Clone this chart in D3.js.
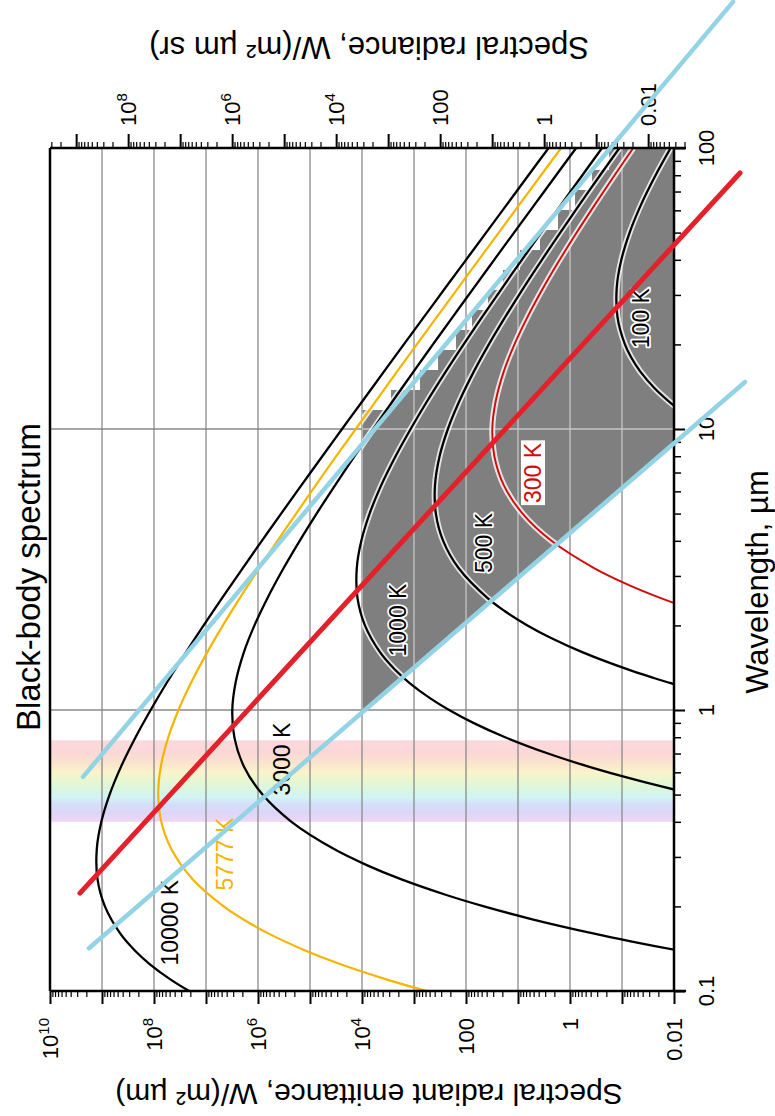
<!DOCTYPE html>
<html>
<head>
<meta charset="utf-8">
<script src="https://cdn.jsdelivr.net/npm/d3@7"></script>
<style>
  body { margin: 0; background: #fff; }
  svg text { font-family: "Liberation Sans", Arial, Helvetica, sans-serif; }
</style>
</head>
<body>
<svg id="chart" width="775" height="1116"></svg>
<script>
// ---- Spectral radiant emittance, W/(m² µm), per temperature ----
const wl10000 = [0.09, 0.1, 0.11, 0.125, 0.14, 0.16, 0.2, 0.25, 0.32, 0.4, 0.5, 0.63, 0.8, 1, 1.25, 1.6, 2, 2.5, 3.2, 4, 5, 6.3, 8, 10, 12.5, 16, 20, 25, 32, 40, 50, 63, 80, 100];
const em10000 = [7.23e6, 2.11e7, 4.85e7, 1.23e8, 2.39e8, 4.44e8, 8.79e8, 1.22e9, 1.26e9, 1.03e9, 7.14e8, 4.28e8, 2.26e8, 1.16e8, 5.68e7, 2.45e7, 1.11e7, 4.92e6, 1.96e6, 8.43e5, 3.59e5, 1.47e5, 5.79e4, 2.42e4, 1.00e4, 3.79e3, 1.57e3, 647, 243, 99.8, 41.0, 16.3, 6.30, 2.58];

const wl5777 = [0.09, 0.1, 0.11, 0.125, 0.14, 0.16, 0.18, 0.2, 0.25, 0.32, 0.4, 0.5, 0.63, 0.8, 1, 1.25, 1.6, 2, 2.5, 3.2, 4, 5, 6.3, 8, 10, 12.5, 16, 20, 25, 32, 40, 50, 63, 80, 100];
const em5777 = [60.8, 570, 3.41e3, 2.73e4, 1.31e5, 6.21e5, 1.94e6, 4.57e6, 1.81e7, 4.65e7, 7.24e7, 8.28e7, 7.38e7, 5.31e7, 3.38e7, 1.94e7, 9.53e6, 4.73e6, 2.24e6, 9.46e5, 4.23e5, 1.85e5, 7.78e4, 3.13e4, 1.32e4, 5.56e3, 2.12e3, 881, 366, 138, 56.9, 23.4, 9.35, 3.61, 1.48];

const wl3000 = [0.125, 0.14, 0.15, 0.16, 0.18, 0.2, 0.22, 0.25, 0.28, 0.32, 0.4, 0.5, 0.63, 0.8, 1, 1.25, 1.6, 2, 2.5, 3.2, 4, 5, 6.3, 8, 10, 12.5, 16, 20, 25, 32, 40, 50, 63, 80, 100];
const em3000 = [2.67e-4, 9.22e-3, 6.41e-2, 0.342, 5.31, 45.1, 247, 1.79e3, 7.91e3, 3.45e4, 2.27e5, 8.17e5, 1.87e6, 2.85e6, 3.12e6, 2.70e6, 1.88e6, 1.17e6, 6.59e5, 3.21e5, 1.58e5, 7.45e4, 3.30e4, 1.39e4, 6.08e3, 2.62e3, 1.02e3, 432, 181, 69.0, 28.7, 11.9, 4.76, 1.85, 0.762];

const wl1000 = [0.5, 0.52, 0.55, 0.58, 0.63, 0.7, 0.8, 0.9, 1, 1.1, 1.25, 1.4, 1.6, 2, 2.5, 3.2, 4, 5, 6.3, 8, 10, 12.5, 16, 20, 25, 32, 40, 50, 63, 80, 100];
const em1000 = [3.81e-3, 9.46e-3, 3.24e-2, 9.59e-2, 0.455, 2.64, 17.7, 72.3, 211, 485, 1230, 2390, 4440, 8790, 12200, 12600, 10300, 7140, 4280, 2260, 1160, 568, 245, 111, 49.2, 19.6, 8.43, 3.59, 1.47, 0.579, 0.242];

const wl500 = [1.1, 1.2, 1.25, 1.3, 1.4, 1.6, 1.8, 2, 2.25, 2.5, 3.2, 4, 5, 6.3, 8, 10, 12.5, 16, 20, 25, 32, 40, 50, 63, 80, 100];
const em500 = [1.01e-3, 5.79e-3, 1.23e-2, 2.45e-2, 8.24e-2, 0.552, 2.26, 6.59, 18.1, 38.4, 139, 275, 380, 395, 322, 223, 136, 70.8, 36.4, 17.7, 7.66, 3.47, 1.54, 0.652, 0.264, 0.112];

const wl300 = [2, 2.2, 2.35, 2.5, 2.8, 3.2, 4, 5, 6.3, 8, 10, 12.5, 16, 20, 25, 32, 40, 50, 63, 80, 100];
const em300 = [4.51e-4, 2.47e-3, 7.14e-3, 1.79e-2, 7.91e-2, 0.345, 2.27, 8.17, 18.7, 28.5, 31.2, 27.0, 18.8, 11.7, 6.59, 3.21, 1.58, 0.745, 0.330, 0.139, 0.0608];

const wl100 = [10, 11, 12, 12.5, 14, 16, 18, 20, 25, 32, 40, 50, 63, 80, 100];
const em100 = [2.11e-3, 4.85e-3, 9.33e-3, 1.23e-2, 2.39e-2, 4.44e-2, 6.68e-2, 8.79e-2, 0.122, 0.126, 0.103, 7.14e-2, 4.28e-2, 2.26e-2, 1.16e-2];

// Curve labels and the point (wavelength, emittance) each label is centred on
const curveLabels = ["10000 K", "5777 K", "3000 K", "1000 K", "500 K", "300 K", "100 K"];
const labelWl = [0.175, 0.307, 0.669, 2.09, 3.93, 6.97, 24.8];
const labelEm = [4.9e7, 4.3e6, 3.45e5, 2.03e3, 45, 5.15, 0.0431];

// Straight reference lines: [wavelength, emittance] end points
const peakLineWl = [0.223, 81.5];
const peakLineEm = [2.65e9, 5.38e-4];
const blueUpperWl = [0.578, 331];
const blueUpperEm = [2.32e9, 7.33e-4];
const blueLowerWl = [0.142, 14.7];
const blueLowerEm = [1.78e9, 4.31e-4];

// Stepped upper edge of the shaded band
const shadeWl = [10, 11.68, 13.77, 16.22, 19.10, 22.50, 26.51, 31.23, 36.79, 43.35, 51.07, 60.16, 70.88, 83.50, 100];
const shadeEm = [1e4, 2770, 767, 345, 156, 76.7, 37.8, 19.4, 9.16, 3.78, 1.70, 0.80, 0.378, 0.178, 0.0767];

// Visible band
const spectrumWl = [0.78, 0.70, 0.64, 0.60, 0.56, 0.52, 0.49, 0.46, 0.43, 0.40];
const spectrumColors = ["#fbd9dc", "#fbd8d6", "#fbe6cc", "#f9f4cc", "#e8f7d0", "#d8f6e0", "#d3f4f6", "#d5def9", "#ddd6f8", "#f3d5f3"];

// Tick labels
const bottomTicks = [1e10, 1e8, 1e6, 1e4, 100, 1, 0.01];
const bottomTickText = [["10", "10"], ["10", "8"], ["10", "6"], ["10", "4"], ["100", ""], ["1", ""], ["0.01", ""]];
const topTicks = [1e8, 1e6, 1e4, 100, 1, 0.01];
const topTickText = [["10", "8"], ["10", "6"], ["10", "4"], ["100", ""], ["1", ""], ["0.01", ""]];
const rightTicks = [0.1, 1, 10, 100];
const rightTickText = ["0.1", "1", "10", "100"];

// ---- layout ----
const svg = d3.select("#chart");
const plot = { left: 50, right: 674, top: 148, bottom: 991 };

const x = d3.scaleLog().domain([1e10, 0.01]).range([plot.left, plot.right]);
const xRad = d3.scaleLog().domain([1e10 / Math.PI, 0.01 / Math.PI]).range([plot.left, plot.right]);
const y = d3.scaleLog().domain([0.1, 100]).range([plot.bottom, plot.top]);

const defs = svg.append("defs");
defs.append("clipPath").attr("id", "plot-clip").append("rect")
  .attr("x", plot.left).attr("y", plot.top)
  .attr("width", plot.right - plot.left).attr("height", plot.bottom - plot.top);

svg.append("rect").attr("width", 775).attr("height", 1116).attr("fill", "#fff");

// visible-light gradient band
const grad = defs.append("linearGradient").attr("id", "visible")
  .attr("gradientUnits", "userSpaceOnUse")
  .attr("x1", 0).attr("x2", 0)
  .attr("y1", y(spectrumWl[0])).attr("y2", y(spectrumWl[spectrumWl.length - 1]));
const y0 = y(spectrumWl[0]), y1 = y(spectrumWl[spectrumWl.length - 1]);
spectrumWl.forEach((w, i) => {
  grad.append("stop").attr("offset", (y(w) - y0) / (y1 - y0)).attr("stop-color", spectrumColors[i]);
});
svg.append("rect")
  .attr("x", plot.left).attr("width", plot.right - plot.left)
  .attr("y", y0).attr("height", y1 - y0)
  .attr("fill", "url(#visible)");

// grid
const decades = d3.range(-1, 10).map(k => Math.pow(10, k));
const wlGrid = [1, 10];
function drawGrid(g, color, width) {
  g.selectAll(".gv").data(decades).join("line")
    .attr("x1", d => x(d)).attr("x2", d => x(d))
    .attr("y1", plot.top).attr("y2", plot.bottom)
    .attr("stroke", color).attr("stroke-width", width);
  g.selectAll(".gh").data(wlGrid).join("line")
    .attr("x1", plot.left).attr("x2", plot.right)
    .attr("y1", d => y(d)).attr("y2", d => y(d))
    .attr("stroke", color).attr("stroke-width", width);
}
drawGrid(svg.append("g"), "#8a8a8a", 1.3);

// shaded band
function lambdaAt(wls, ems, m) {
  const l0 = Math.log10(wls[0]), l1 = Math.log10(wls[1]);
  const m0 = Math.log10(ems[0]), m1 = Math.log10(ems[1]);
  return Math.pow(10, l0 + (Math.log10(m) - m0) * (l1 - l0) / (m1 - m0));
}
const shadePts = [];
for (let i = 0; i < shadeWl.length - 1; i++) {
  shadePts.push([shadeWl[i], shadeEm[i]]);
  shadePts.push([shadeWl[i + 1], shadeEm[i]]);
}
shadePts.push([shadeWl[shadeWl.length - 1], shadeEm[shadeEm.length - 1]]);
shadePts.push([100, 0.01]);
shadePts.push([lambdaAt(blueLowerWl, blueLowerEm, 0.01), 0.01]);
shadePts.push([lambdaAt(blueLowerWl, blueLowerEm, 1e4), 1e4]);
const shadePath = d3.line().x(d => x(d[1])).y(d => y(d[0]))(shadePts) + "Z";

defs.append("clipPath").attr("id", "shade-clip").append("path").attr("d", shadePath);
svg.append("path").attr("d", shadePath).attr("fill", "#7f7f7f");
drawGrid(svg.append("g").attr("clip-path", "url(#shade-clip)"), "#c6c6c6", 1.3);

// Planck curves
const series = [
  { wl: wl10000, em: em10000, color: "#000", width: 2.3 },
  { wl: wl5777, em: em5777, color: "#f5b400", width: 2.2 },
  { wl: wl3000, em: em3000, color: "#000", width: 2.3 },
  { wl: wl1000, em: em1000, color: "#000", width: 2.3 },
  { wl: wl500, em: em500, color: "#000", width: 2.3 },
  { wl: wl300, em: em300, color: "#d10a0a", width: 1.9 },
  { wl: wl100, em: em100, color: "#000", width: 2.3 }
];
const curve = d3.line()
  .x(d => x(d[1])).y(d => y(d[0]))
  .curve(d3.curveCatmullRom.alpha(0.5));

const halo = svg.append("g").attr("clip-path", "url(#shade-clip)");
halo.selectAll("path").data(series).join("path")
  .attr("d", s => curve(s.wl.map((w, i) => [w, s.em[i]])))
  .attr("fill", "none").attr("stroke", "#fff").attr("stroke-width", 6).attr("stroke-opacity", 0.8);

const curves = svg.append("g").attr("clip-path", "url(#plot-clip)");
curves.selectAll("path").data(series).join("path")
  .attr("d", s => curve(s.wl.map((w, i) => [w, s.em[i]])))
  .attr("fill", "none").attr("stroke", s => s.color).attr("stroke-width", s => s.width);

// curve labels
const labelColors = ["#000", "#f5b400", "#000", "#000", "#000", "#d10a0a", "#000"];
const labelHalo = [false, false, false, true, true, false, true];
const labelBox = [false, false, false, false, false, true, false];
curveLabels.forEach((t, i) => {
  const g = svg.append("g")
    .attr("transform", `translate(${x(labelEm[i])},${y(labelWl[i])}) rotate(-90)`);
  const txt = g.append("text")
    .attr("text-anchor", "middle").attr("dominant-baseline", "central")
    .attr("font-size", 23).attr("fill", labelColors[i])
    .text(t);
  if (labelHalo[i]) {
    txt.attr("stroke", "#fff").attr("stroke-width", 3.5).attr("paint-order", "stroke")
      .attr("stroke-linejoin", "round");
  }
  if (labelBox[i]) {
    const b = txt.node().getBBox();
    g.insert("rect", "text")
      .attr("x", b.x - 2).attr("y", b.y + 1)
      .attr("width", b.width + 4).attr("height", b.height - 2)
      .attr("fill", "#fff");
  }
});

// ---- axes ----
function minorValues(lo, hi) {
  const out = [];
  for (let k = -4; k <= 10; k++) {
    for (let m = 2; m <= 9; m++) {
      const v = m * Math.pow(10, k);
      if (v >= lo && v <= hi) out.push(v);
    }
  }
  return out;
}
function styleAxis(g, w) {
  g.select(".domain").remove();
  g.selectAll(".tick line").attr("stroke", "#000").attr("stroke-width", w);
  g.selectAll(".tick text").remove();
}

// bottom (emittance)
const bottomMajor = d3.range(-2, 11).map(k => Math.pow(10, k));
svg.append("g").attr("transform", `translate(0,${plot.bottom})`)
  .call(d3.axisBottom(x).tickValues(bottomMajor).tickSize(13).tickFormat(""))
  .call(g => styleAxis(g, 2));
svg.append("g").attr("transform", `translate(0,${plot.bottom})`)
  .call(d3.axisBottom(x).tickValues(minorValues(0.01, 1e10)).tickSize(6).tickFormat(""))
  .call(g => styleAxis(g, 1.2));

// top (radiance)
const radHi = xRad.invert(plot.left), radLo = xRad.invert(686);
const topMajor = d3.range(-3, 11).map(k => Math.pow(10, k)).filter(v => v >= radLo && v <= radHi);
svg.append("g").attr("transform", `translate(0,${plot.top})`)
  .call(d3.axisTop(xRad).tickValues(topMajor).tickSize(14).tickFormat(""))
  .call(g => styleAxis(g, 2));
svg.append("g").attr("transform", `translate(0,${plot.top})`)
  .call(d3.axisTop(xRad).tickValues(minorValues(radLo, radHi)).tickSize(6).tickFormat(""))
  .call(g => styleAxis(g, 1.2));

// right (wavelength)
svg.append("g").attr("transform", `translate(${plot.right},0)`)
  .call(d3.axisRight(y).tickValues([0.1, 1, 10, 100]).tickSize(11).tickFormat(""))
  .call(g => styleAxis(g, 2));
svg.append("g").attr("transform", `translate(${plot.right},0)`)
  .call(d3.axisRight(y).tickValues(minorValues(0.1, 100)).tickSize(7).tickFormat(""))
  .call(g => styleAxis(g, 1.5));

// frame
const frame = svg.append("g").attr("stroke", "#000").attr("stroke-width", 2.5);
frame.append("line").attr("x1", plot.left).attr("x2", 686).attr("y1", plot.top).attr("y2", plot.top);
frame.append("line").attr("x1", plot.left).attr("x2", 686).attr("y1", plot.bottom).attr("y2", plot.bottom);
frame.append("line").attr("x1", plot.left).attr("x2", plot.left).attr("y1", plot.top).attr("y2", plot.bottom);
frame.append("line").attr("x1", plot.right).attr("x2", plot.right).attr("y1", plot.top).attr("y2", plot.bottom);

// tick labels
function powerLabel(sel, parts) {
  sel.append("tspan").text(parts[0]);
  if (parts[1]) sel.append("tspan").attr("dy", "-0.45em").attr("font-size", 15).text(parts[1]);
}
bottomTicks.forEach((v, i) => {
  const t = svg.append("text")
    .attr("transform", `translate(${x(v)},1018) rotate(-90)`)
    .attr("text-anchor", "end").attr("dominant-baseline", "central")
    .attr("font-size", 22).attr("fill", "#000");
  powerLabel(t, bottomTickText[i]);
});
topTicks.forEach((v, i) => {
  const t = svg.append("text")
    .attr("transform", `translate(${xRad(v)},126) rotate(-90)`)
    .attr("text-anchor", "start").attr("dominant-baseline", "central")
    .attr("font-size", 22).attr("fill", "#000");
  powerLabel(t, topTickText[i]);
});
rightTicks.forEach((v, i) => {
  svg.append("text")
    .attr("transform", `translate(706,${y(v)}) rotate(-90)`)
    .attr("text-anchor", "middle").attr("dominant-baseline", "central")
    .attr("font-size", 22).attr("fill", "#000")
    .text(rightTickText[i]);
});

// titles
svg.append("text")
  .attr("transform", "translate(40,577) rotate(-90)")
  .attr("text-anchor", "middle").attr("font-size", 33).attr("fill", "#000")
  .text("Black-body spectrum");
svg.append("text")
  .attr("transform", "translate(768,582) rotate(-90)")
  .attr("text-anchor", "middle").attr("font-size", 31).attr("fill", "#000")
  .text("Wavelength, µm");
svg.append("text")
  .attr("transform", "translate(369,1094) rotate(180)")
  .attr("text-anchor", "middle").attr("dominant-baseline", "central")
  .attr("font-size", 30).attr("fill", "#000")
  .text("Spectral radiant emittance, W/(m² µm)");
svg.append("text")
  .attr("transform", "translate(369,47) rotate(180)")
  .attr("text-anchor", "middle").attr("dominant-baseline", "central")
  .attr("font-size", 31).attr("fill", "#000")
  .text("Spectral radiance, W/(m² µm sr)");

// straight reference lines on top
const straight = d3.line().x(d => x(d[1])).y(d => y(d[0]));
const refLines = [
  { wl: blueUpperWl, em: blueUpperEm, color: "#93d3e6", width: 4.5 },
  { wl: blueLowerWl, em: blueLowerEm, color: "#93d3e6", width: 4.5 },
  { wl: peakLineWl, em: peakLineEm, color: "#e6202a", width: 5 }
];
svg.append("g").selectAll("path").data(refLines).join("path")
  .attr("d", s => straight(s.wl.map((w, i) => [w, s.em[i]])))
  .attr("fill", "none").attr("stroke", s => s.color)
  .attr("stroke-width", s => s.width).attr("stroke-linecap", "round");
</script>
</body>
</html>
